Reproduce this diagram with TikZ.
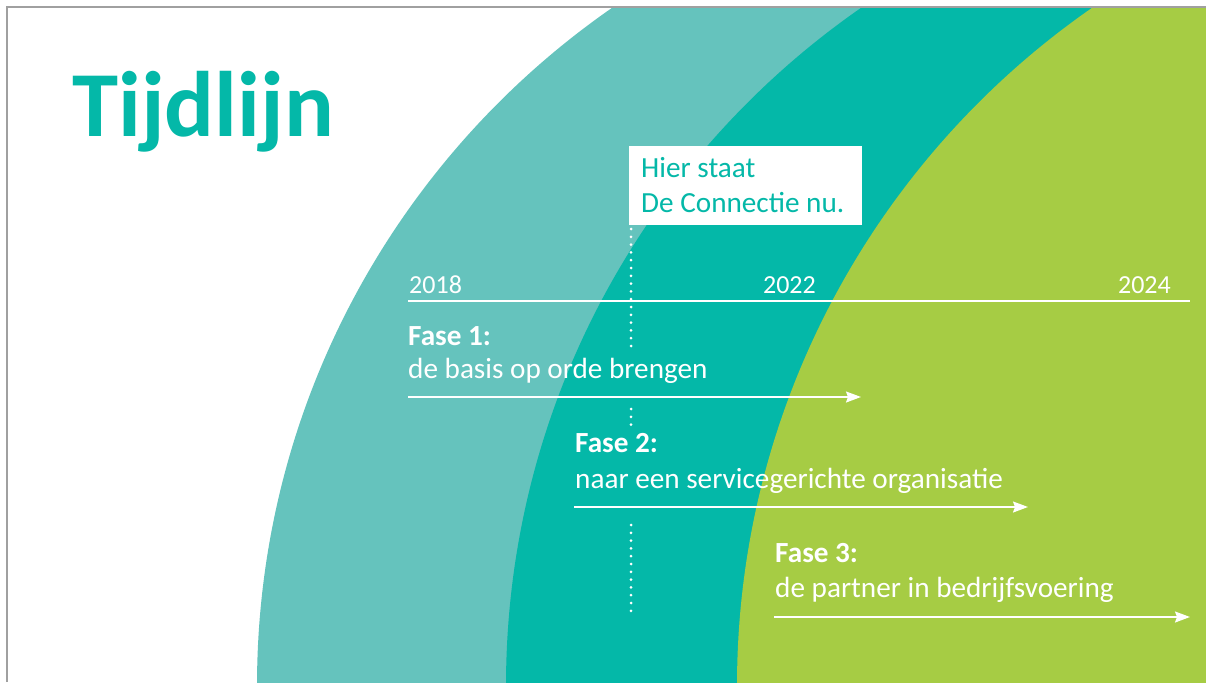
\documentclass[tikz,border=0pt]{standalone}
\usepackage{fontspec}
\setmainfont{Carlito}
\usetikzlibrary{arrows.meta}
\definecolor{lteal}{HTML}{65C3BD}
\definecolor{mteal}{HTML}{04B8A8}
\definecolor{lgreen}{HTML}{A6CC44}
\definecolor{frame}{HTML}{A0A0A0}
\tikzset{
  lbl/.style={anchor=base west, inner sep=0pt, text=white, font=\fontsize{29.2}{34}\selectfont},
  yearlbl/.style={inner sep=0pt, text=white, font=\fontsize{26}{31}\selectfont},
  faselbl/.style={lbl, font=\fontsize{29.2}{34}\selectfont\bfseries},
  tline/.style={draw=white, line width=2pt},
  phasearrow/.style={draw=white, line width=1.5pt, -{Stealth[length=15pt,width=11pt,inset=2pt]}},
  dotline/.style={draw=white, line width=3pt, line cap=round, dash pattern=on 0pt off 7.8pt},
  boxst/.style={fill=white, minimum width=233pt, minimum height=79pt, inner sep=0pt},
  boxtxt/.style={anchor=base west, inner sep=0pt, text=mteal, font=\fontsize{29.2}{35}\selectfont}
}
\begin{document}
\begin{tikzpicture}[x=1pt,y=-1pt]
\useasboundingbox (0,0) rectangle (1206,682);
\fill[white] (0,0) rectangle (1206,682);
\begin{scope}
  \clip (7,7) rectangle (1206,682);
  \fill[lteal] (1082,686) circle[radius=825pt];
  \fill[mteal] (1331,686) circle[radius=825pt];
  \fill[lgreen] (1562,686) circle[radius=825pt];
\end{scope}
\draw[frame, line width=1.5pt] (7,682) -- (7,7) -- (1206,7);

\node[anchor=base west, inner sep=0pt, text=mteal, font=\fontsize{93}{100}\selectfont\bfseries] (title) at (72,136) {Tijdlijn};

\node[boxst] (box) at (745.5,185.5) {};
\node[boxtxt] (box1) at (641,177) {Hier staat};
\node[boxtxt] (box2) at (641,212) {De Connectie nu.};

% dotted "now" marker
\coordinate (d1a) at (631,229);
\coordinate (d1b) at (631,346);
\coordinate (d2a) at (631,409);
\coordinate (d2b) at (631,425);
\coordinate (d3a) at (631,525);
\coordinate (d3b) at (631,617);
\draw[dotline] (d1a) -- (d1b);
\draw[dotline] (d2a) -- (d2b);
\draw[dotline] (d3a) -- (d3b);

% timeline
\coordinate (t0) at (408,301);
\coordinate (t1) at (1190,301);
\draw[tline] (t0) -- (t1);
\node[yearlbl, anchor=base west] (y2018) at (409,293) {2018};
\node[yearlbl, anchor=base east] (y2022) at (816,293) {2022};
\node[yearlbl, anchor=base east] (y2024) at (1171,293) {2024};

% phases
\node[faselbl] (f1) at (408,345) {Fase 1:};
\node[lbl] (f1d) at (408,378) {de basis op orde brengen};
\coordinate (a1s) at (408,397);
\coordinate (a1e) at (861,397);
\draw[phasearrow] (a1s) -- (a1e);

\node[faselbl] (f2) at (575,452) {Fase 2:};
\node[lbl] (f2d) at (575,488) {naar een servicegerichte organisatie};
\coordinate (a2s) at (574,507);
\coordinate (a2e) at (1028,507);
\draw[phasearrow] (a2s) -- (a2e);

\node[faselbl] (f3) at (775,562) {Fase 3:};
\node[lbl] (f3d) at (775,597) {de partner in bedrijfsvoering};
\coordinate (a3s) at (774,617);
\coordinate (a3e) at (1190,617);
\draw[phasearrow] (a3s) -- (a3e);
\end{tikzpicture}
\end{document}
